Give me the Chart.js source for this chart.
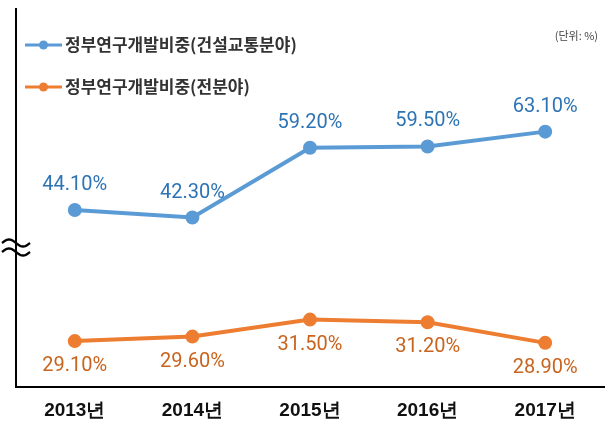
<!DOCTYPE html>
<html>
<head>
<meta charset="utf-8">
<script src="https://cdn.jsdelivr.net/npm/chart.js@4.4.1/dist/chart.umd.min.js"></script>
<style>
  html, body { margin: 0; padding: 0; background: #fff; }
  #wrap { width: 613px; height: 425px; position: relative; }
</style>
</head>
<body>
<div id="wrap"><canvas id="chart"></canvas></div>
<script>
// values
const years = ['2013년', '2014년', '2015년', '2016년', '2017년'];
const constructionShare = [44.1, 42.3, 59.2, 59.5, 63.1];
const allFieldsShare = [29.1, 29.6, 31.5, 31.2, 28.9];
const seriesNames = ['정부연구개발비중(건설교통분야)', '정부연구개발비중(전분야)'];
const unitLabel = '(단위: %)';

const BLUE = '#5b9bd5';
const BLUE_TEXT = '#2e74b5';
const ORANGE = '#ed7d31';
const ORANGE_TEXT = '#c8641e';

// value labels above (blue) / below (orange) each point
const valueLabels = {
    id: 'valueLabels',
    afterDatasetsDraw(chart) {
        const ctx = chart.ctx;
        ctx.save();
        ctx.font = '20px Roboto, "Noto Sans", sans-serif';
        ctx.textAlign = 'center';
        ctx.textBaseline = 'middle';
        chart.data.datasets.forEach((ds, i) => {
            const meta = chart.getDatasetMeta(i);
            const below = ds.labelSide === 'below';
            ctx.fillStyle = ds.labelColor;
            meta.data.forEach((pt, j) => {
                const txt = ds.data[j].toFixed(2) + '%';
                ctx.fillText(txt, pt.x, pt.y + (below ? 25 : -25));
            });
        });
        ctx.restore();
    }
};

// legend inside the plot, unit note and the axis break mark
const decorations = {
    id: 'decorations',
    afterDraw(chart) {
        const ctx = chart.ctx;
        const area = chart.chartArea;
        ctx.save();

        // legend
        const rows = [45, 87];
        chart.data.datasets.forEach((ds, i) => {
            const y = rows[i];
            ctx.strokeStyle = ds.borderColor;
            ctx.lineWidth = 3;
            ctx.beginPath();
            ctx.moveTo(25, y);
            ctx.lineTo(62, y);
            ctx.stroke();
            ctx.fillStyle = ds.borderColor;
            ctx.beginPath();
            ctx.arc(43.5, y, 4.5, 0, Math.PI * 2);
            ctx.fill();
            ctx.fillStyle = '#333';
            ctx.font = 'bold 17px "Noto Sans CJK KR", sans-serif';
            ctx.textAlign = 'left';
            ctx.textBaseline = 'middle';
            ctx.fillText(ds.label, 65, y);
        });

        // unit
        ctx.fillStyle = '#444';
        ctx.font = '11px "Noto Sans CJK KR", sans-serif';
        ctx.textAlign = 'right';
        ctx.textBaseline = 'middle';
        ctx.fillText(unitLabel, 598, 36);

        // axis break (two tildes over the y axis)
        ctx.strokeStyle = '#000';
        ctx.lineWidth = 2.4;
        [243, 252].forEach(cy => {
            ctx.beginPath();
            for (let k = 0; k <= 24; k++) {
                const t = k / 24;
                const x = area.left - 14 + t * 28;
                const y = cy - 3.5 * Math.sin(2 * Math.PI * t);
                if (k === 0) ctx.moveTo(x, y); else ctx.lineTo(x, y);
            }
            ctx.stroke();
        });
        ctx.restore();
    }
};

new Chart(document.getElementById('chart'), {
    type: 'line',
    data: {
        labels: years,
        datasets: [
            {
                label: seriesNames[0],
                data: constructionShare,
                yAxisID: 'y',
                borderColor: BLUE,
                backgroundColor: BLUE,
                borderWidth: 4,
                pointRadius: 5,
                pointHoverRadius: 5,
                tension: 0,
                labelColor: BLUE_TEXT,
                labelSide: 'above'
            },
            {
                label: seriesNames[1],
                data: allFieldsShare,
                yAxisID: 'y2',
                borderColor: ORANGE,
                backgroundColor: ORANGE,
                borderWidth: 4,
                pointRadius: 5,
                pointHoverRadius: 5,
                tension: 0,
                labelColor: ORANGE_TEXT,
                labelSide: 'below'
            }
        ]
    },
    options: {
        responsive: true,
        maintainAspectRatio: false,
        animation: false,
        layout: {
            padding: { left: 16, right: 7, top: 6, bottom: -9 }
        },
        plugins: {
            legend: { display: false },
            tooltip: { enabled: false }
        },
        scales: {
            x: {
                offset: true,
                grid: { display: false, drawTicks: false },
                border: { display: true, color: '#000', width: 2 },
                ticks: {
                    padding: 12,
                    color: '#111',
                    font: { family: '"Liberation Sans Narrow", "Liberation Sans", sans-serif', size: 19, weight: 'bold' }
                }
            },
            y: {
                position: 'left',
                min: 1.2,
                max: 92.8,
                grid: { display: false, drawTicks: false },
                border: { display: true, color: '#000', width: 2 },
                ticks: { display: false }
            },
            y2: {
                display: false,
                min: 23.95,
                max: 66.18
            }
        }
    },
    plugins: [valueLabels, decorations]
});
</script>
</body>
</html>
